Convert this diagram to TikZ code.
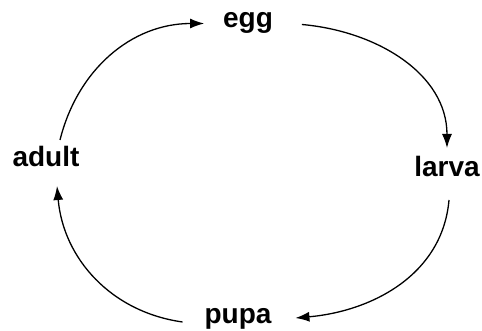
\documentclass[tikz,border=0pt]{standalone}
\usepackage{fontspec}
\setmainfont{Liberation Sans}
\usetikzlibrary{arrows.meta}

\tikzset{
  stage/.style={inner sep=0pt,outer sep=0pt,anchor=base,
    text height=20pt,text depth=5pt,
    font=\bfseries\fontsize{28}{30}\selectfont},
  cyc/.style={line width=1.3pt,-{Latex[length=14pt,width=10pt]}}
}

\begin{document}
\begin{tikzpicture}[x=1pt,y=-1pt]
  \useasboundingbox (0,0) rectangle (482,331);
  % the four stages
  \node[stage] (egg)   at (248,28)  {egg};
  \node[stage] (larva) at (447,177) {larva};
  \node[stage] (pupa)  at (238,323) {pupa};
  \node[stage] (adult) at (46,167)  {adult};
  % the cycle
  \draw[cyc] ([shift={(29,4)}]egg.east) to[out=-5,in=90] ([shift={(0,-9)}]larva.north);
  \draw[cyc] ([shift={(2,18)}]larva.south) to[out=-95,in=5] ([shift={(24,2.5)}]pupa.east);
  \draw[cyc] ([shift={(-22,6.5)}]pupa.west) to[out=172,in=-85] ([shift={(11,14)}]adult.south);
  \draw[cyc] ([shift={(14,-7)}]adult.north) to[out=76,in=180] ([shift={(-19,3)}]egg.west);
\end{tikzpicture}
\end{document}
